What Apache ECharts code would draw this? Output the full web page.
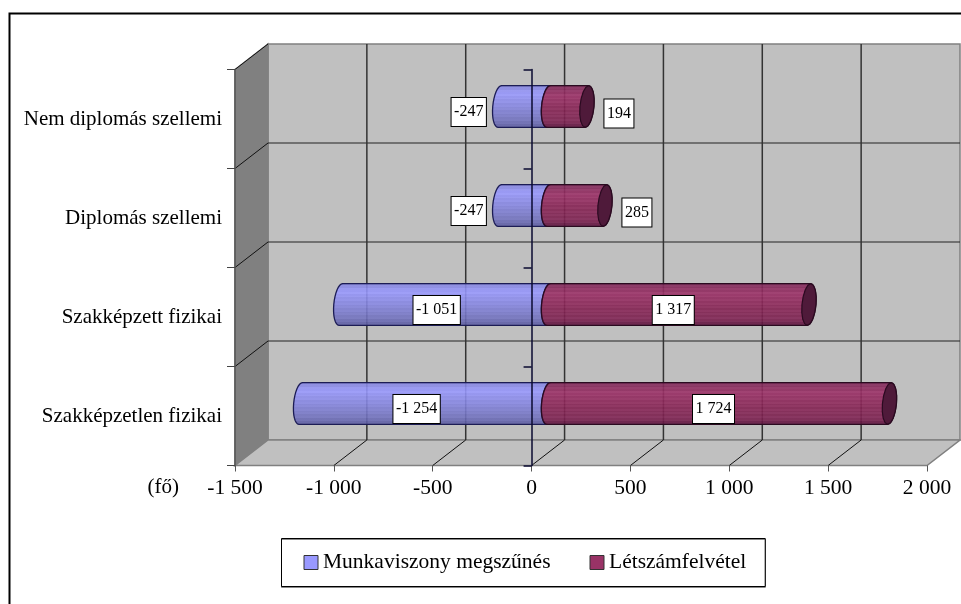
<!DOCTYPE html>
<html>
<head>
<meta charset="utf-8">
<style>html,body{margin:0;padding:0;background:#fff}#c{width:961px;height:604px}</style>
<script src="https://cdn.jsdelivr.net/npm/echarts@6/dist/echarts.min.js"></script>
</head>
<body>
<div id="c"></div>
<script>
const categories = ['Szakképzetlen fizikai', 'Szakképzett fizikai', 'Diplomás szellemi', 'Nem diplomás szellemi'];
const leavers = [-1254, -1051, -247, -247];
const hires = [1724, 1317, 285, 194];
const leaversName = 'Munkaviszony megszűnés';
const hiresName = 'Létszámfelvétel';
const axisMin = -1500, axisMax = 2000, axisStep = 500;
const axisUnit = '(fő)';

const FONT = '"Liberation Serif","Times New Roman",serif';
const DEPTH_X = 33, DEPTH_Y = -25.5;          // oblique wall offset
const MID_X = 17, MID_Y = -12.5;              // bars stand mid-depth
const RX = 7, RY = 20.8, TILT = 1.8;

const fmt = v => {
  const s = String(Math.abs(v)).replace(/\B(?=(\d{3})+$)/g, ' ');
  return (v < 0 ? '-' : '') + s;
};
function hex(c){return [1,3,5].map(i=>parseInt(c.substr(i,2),16));}
function ramp(profile, stripe, alpha){
  const N = 24, stops = [];
  for(let i=0;i<N;i++){
    const t=(i+.5)/N; let k=0;
    while(k<profile.length-2 && t>profile[k+1][0]) k++;
    const a=profile[k], b=profile[k+1], u=(t-a[0])/(b[0]-a[0]);
    const ca=hex(a[1]), cb=hex(b[1]);
    const d=(i%2?stripe:-stripe);
    const c=ca.map((x,j)=>Math.round(Math.max(0,Math.min(255,x+(cb[j]-x)*u+d))));
    const col=`rgba(${c[0]},${c[1]},${c[2]},${alpha})`;
    stops.push({offset:i/N,color:col},{offset:(i+1)/N,color:col});
  }
  return {type:'linear',x:0,y:0,x2:0,y2:1,colorStops:stops};
}
const blueFill = ramp([[0,'#7f7fd8'],[.2,'#9999ff'],[.5,'#8585e0'],[.8,'#7373c0'],[1,'#5a5aa0']],3,.88);
const redFill = ramp([[0,'#7a2655'],[.25,'#9c3268'],[.55,'#882656'],[.85,'#7e2452'],[1,'#5e1640']],4,.9);

function arc(cx,cy,from,to){
  const pts=[],n=16;
  for(let i=0;i<=n;i++){
    const t=(from+(to-from)*i/n)*Math.PI/180;
    pts.push([cx+RX*Math.cos(t)-TILT*Math.sin(t),cy+RY*Math.sin(t)]);
  }
  return pts;
}
function labelEl(v,x,y){
  return {type:'text',z2:20,style:{text:fmt(v),x,y,align:'center',verticalAlign:'middle',
    fill:'#000',font:'16px '+FONT,backgroundColor:'#fff',borderColor:'#000',borderWidth:1,
    padding:[5,2.5,5,2.5],lineHeight:18}};
}
function renderBar(params,api){
  const v=api.value(0), cat=api.value(1);
  const z=api.coord([0,cat]), e=api.coord([v,cat]);
  const x0=z[0]+MID_X, xv=e[0]+MID_X, cy=z[1]+MID_Y;
  const children=[];
  if(v<0){
    children.push({type:'polygon',shape:{points:[...arc(xv,cy,-90,-270),...arc(x0,cy,90,270)]},
      style:{fill:blueFill,stroke:'#1c1c55',lineWidth:1.3}});
    const big=Math.abs(v)>=axisStep;
    children.push(labelEl(v,big?(x0+xv)/2-8:xv-31,cy+5.5));
  }else{
    children.push({type:'polygon',shape:{points:[...arc(x0,cy,-90,-270),...arc(xv,cy,90,-90)]},
      style:{fill:redFill,stroke:'#2a0a20',lineWidth:1.3}});
    children.push({type:'polygon',shape:{points:arc(xv,cy,0,360)},
      style:{fill:'#4f1a3a',stroke:'#2a0a20',lineWidth:1.2}});
    const big=v>=axisStep;
    children.push(labelEl(v,big?(x0+xv)/2-5.5:xv+32,cy+(big?5.5:7)));
  }
  return {type:'group',children};
}
function renderFrame(params,api){
  const band=api.size([0,1])[1];
  const n=categories.length;
  const xa=api.coord([axisMin,0])[0], xb=api.coord([axisMax,0])[0];
  const yBottom=api.coord([0,0])[1]+band/2, yTop=api.coord([0,n-1])[1]-band/2;
  const poly=(pts,fill)=>({type:'polygon',shape:{points:pts},style:{fill,stroke:'#808080',lineWidth:1.5}});
  const line=(x1,y1,x2,y2,stroke,lineWidth)=>({type:'line',shape:{x1,y1,x2,y2},style:{stroke,lineWidth}});
  const kids=[
    poly([[xa+DEPTH_X,yTop+DEPTH_Y],[xb+DEPTH_X,yTop+DEPTH_Y],[xb+DEPTH_X,yBottom+DEPTH_Y],[xa+DEPTH_X,yBottom+DEPTH_Y]],'#c0c0c0'),
    poly([[xa,yTop],[xa+DEPTH_X,yTop+DEPTH_Y],[xa+DEPTH_X,yBottom+DEPTH_Y],[xa,yBottom]],'#808080'),
    poly([[xa,yBottom],[xa+DEPTH_X,yBottom+DEPTH_Y],[xb+DEPTH_X,yBottom+DEPTH_Y],[xb,yBottom]],'#c0c0c0')
  ];
  for(let i=0;i<n-1;i++){
    const y=api.coord([0,i])[1]-band/2;
    kids.push(line(xa+DEPTH_X,y+DEPTH_Y,xb+DEPTH_X,y+DEPTH_Y,'#222',1.2));
    kids.push(line(xa,y,xa+DEPTH_X,y+DEPTH_Y,'#111',1));
  }
  kids.push(line(xa,yTop,xa+DEPTH_X,yTop+DEPTH_Y,'#111',1));
  for(let v=axisMin+axisStep;v<axisMax;v+=axisStep){
    const x=api.coord([v,0])[0];
    kids.push(line(x+DEPTH_X,yTop+DEPTH_Y,x+DEPTH_X,yBottom+DEPTH_Y,'#333',1.5));
    kids.push(line(x,yBottom,x+DEPTH_X,yBottom+DEPTH_Y,'#111',1));
  }
  return {type:'group',children:kids};
}

const chart=echarts.init(document.getElementById('c'),null,{renderer:'canvas'});
chart.setOption({
  animation:false,
  backgroundColor:'#fff',
  textStyle:{fontFamily:FONT},
  graphic:[
    {type:'polyline',silent:true,z:0,shape:{points:[[9.5,604],[9.5,13.5],[961,13.5]]},
     style:{fill:'none',stroke:'#000',lineWidth:2}},
    {type:'text',silent:true,z:5,x:179,y:487,
     style:{text:axisUnit,font:'21px '+FONT,fill:'#000',align:'right',verticalAlign:'middle'}}
  ],
  grid:{left:235,top:69.5,width:692,height:396,containLabel:false},
  xAxis:{type:'value',min:axisMin,max:axisMax,interval:axisStep,z:2,
    splitLine:{show:false},
    axisLine:{onZero:false,lineStyle:{color:'#555',width:1.5}},
    axisTick:{show:true,length:6,lineStyle:{color:'#555',width:1}},
    axisLabel:{fontFamily:FONT,fontSize:21.5,color:'#000',margin:12,formatter:fmt,showMinLabel:true,showMaxLabel:true}},
  yAxis:[
    {type:'category',data:categories,z:2,position:'left',
     axisLine:{onZero:false,lineStyle:{color:'#555',width:1.5}},
     axisTick:{show:true,length:8,lineStyle:{color:'#444',width:1}},
     axisLabel:{fontFamily:FONT,fontSize:21,color:'#000',margin:13},
     splitLine:{show:false}},
    {type:'category',data:categories,z:3.5,position:'left',
     axisLine:{onZero:true,lineStyle:{color:'#0a0a30',width:1.5}},
     axisTick:{show:true,length:8,lineStyle:{color:'#0a0a30',width:1.5}},
     axisLabel:{show:false},splitLine:{show:false}}
  ],
  legend:{left:281.5,top:538.5,orient:'horizontal',
    data:[{name:leaversName,icon:'rect'},{name:hiresName,icon:'rect'}],
    itemWidth:14,itemHeight:14,itemGap:39,selectedMode:false,
    padding:[13,19,13,22],backgroundColor:'#fff',borderColor:'#000',borderWidth:1,
    shadowColor:'#888',shadowOffsetY:1,shadowOffsetX:0,shadowBlur:0,
    itemStyle:{borderColor:'#333',borderWidth:1},
    textStyle:{fontFamily:FONT,fontSize:21.5,color:'#000'}},
  series:[
    {type:'custom',name:'frame',silent:true,z:1,coordinateSystem:'cartesian2d',
     data:[[0,0]],encode:{x:0,y:1},clip:false,renderItem:renderFrame},
    {type:'custom',name:leaversName,z:3,coordinateSystem:'cartesian2d',
     itemStyle:{color:'#9999ff'},
     data:leavers.map((v,i)=>[v,i]),encode:{x:0,y:1},clip:false,renderItem:renderBar},
    {type:'custom',name:hiresName,z:4,coordinateSystem:'cartesian2d',
     itemStyle:{color:'#993366'},
     data:hires.map((v,i)=>[v,i]),encode:{x:0,y:1},clip:false,renderItem:renderBar}
  ]
});
</script>
</body>
</html>
